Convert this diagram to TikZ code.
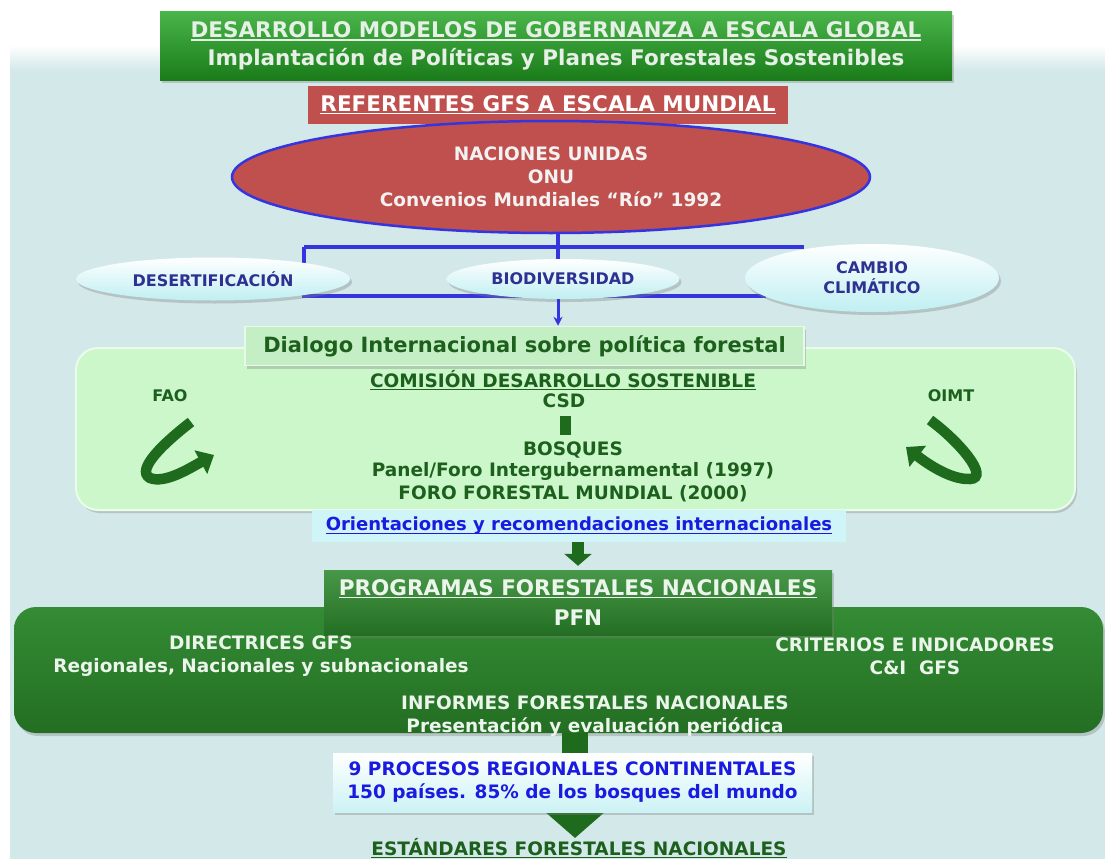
\documentclass[tikz,border=0pt]{standalone}
\usepackage{fontspec}
\setmainfont{DejaVu Sans}
\usetikzlibrary{shapes.geometric,shadows,arrows.meta}
\definecolor{bgc}{HTML}{D3E8E9}
\definecolor{tgtop}{HTML}{49B449}
\definecolor{tgmid}{HTML}{249424}
\definecolor{tgbot}{HTML}{1A7C1A}
\definecolor{ttxt}{HTML}{E6F0E6}
\definecolor{redc}{HTML}{C0504D}
\definecolor{blc}{HTML}{3535E0}
\definecolor{dblue}{HTML}{2E3192}
\definecolor{cyanl}{HTML}{BFEFF2}
\definecolor{lgfill}{HTML}{CBF7CB}
\definecolor{dialf}{HTML}{C4EFC4}
\definecolor{dgtxt}{HTML}{1D601D}
\definecolor{darkg}{HTML}{1E6B1E}
\definecolor{orfill}{HTML}{CFF5F8}
\definecolor{ortxt}{HTML}{1A1AE0}
\definecolor{dgtop}{HTML}{348C34}
\definecolor{dgmid}{HTML}{2A7D2A}
\definecolor{dgbot}{HTML}{236E23}
\definecolor{wtxt}{HTML}{ECF5EC}
\newcommand\myul[1]{\setbox0\hbox{#1}\rlap{\rule[-3pt]{\wd0}{1.3pt}}\box0}
\begin{document}
\begin{tikzpicture}[x=1pt,y=-1pt,
  hdr/.style={font=\fontsize{21.5}{28}\selectfont\bfseries},
  body/.style={font=\fontsize{18.5}{23}\selectfont\bfseries},
  small/.style={font=\fontsize{16}{20}\selectfont\bfseries},
  shad/.style={drop shadow={opacity=0.35,shadow xshift=2pt,shadow yshift=-3pt}},
  titlebox/.style={rectangle,top color=tgtop,middle color=tgmid,bottom color=tgbot,text=ttxt,align=center,hdr,shad,inner sep=0pt},
  redbox/.style={rectangle,fill=redc,text=white,hdr,inner sep=0pt},
  nuell/.style={ellipse,fill=redc,draw=blc,line width=2.5pt,text=white!95!black,align=center,body,inner sep=0pt},
  smell/.style={ellipse,top color=white,bottom color=cyanl,text=dblue,align=center,small,inner sep=0pt,shad},
  bline/.style={draw=blc,line width=3.4pt},
  lgbox/.style={rectangle,rounded corners=22pt,fill=lgfill,draw=white!60!lgfill,line width=2pt,shad},
  dialbox/.style={rectangle,fill=dialf,draw=white!60!dialf,line width=1.5pt,text=dgtxt,inner sep=0pt,shad,font=\fontsize{21}{26}\selectfont\bfseries},
  gtxt/.style={text=dgtxt,body,inner sep=0pt},
  orbox/.style={rectangle,fill=orfill,text=ortxt,inner sep=0pt,font=\fontsize{18}{22}\selectfont\bfseries},
  dgbox/.style={rectangle,rounded corners=22pt,top color=dgtop,middle color=dgmid,bottom color=dgbot,shad},
  pfnbox/.style={rectangle,top color=dgtop!90!white,bottom color=dgbot,text=wtxt,hdr,align=center,inner sep=0pt,shad},
  wt/.style={text=wtxt,body,inner sep=0pt,align=center},
  procbox/.style={rectangle,top color=white,bottom color=cyanl!80!white,text=ortxt,body,align=center,inner sep=0pt,shad},
  curv/.style={draw=darkg,line width=10.5pt,-{Triangle[width=26pt,length=15pt]}}
]
\useasboundingbox (0,0) rectangle (1105,859);
% background
\fill[white] (0,0) rectangle (1105,859);
\fill[bgc] (10,70) rectangle (1105,859);
\shade[top color=white,bottom color=bgc] (10,45) rectangle (1105,71);

% title
\node[titlebox,minimum width=792pt,minimum height=68pt] (title) at (556,46)
  {\myul{DESARROLLO MODELOS DE GOBERNANZA A ESCALA GLOBAL}\\Implantación de Políticas y Planes Forestales Sostenibles};
\node[redbox,minimum width=480pt,minimum height=38pt] (ref) at (548,105)
  {\myul{REFERENTES GFS A ESCALA MUNDIAL}};

% blue connectors
\coordinate (j0) at (558,225);
\coordinate (j1) at (558,247);
\coordinate (jl) at (304,247);
\coordinate (jr) at (804,247);
\coordinate (bl) at (304,296);
\coordinate (br) at (766,296);
\coordinate (bm) at (558,296);
\draw[bline] (j0) -- (558,262);
\draw[bline] (jl) -- (jr);
\draw[bline] (jl) -- (bl) -- (br);

% NU ellipse
\node[nuell,minimum width=638pt,minimum height=112pt] (nu) at (551,177)
  {NACIONES UNIDAS\\ONU\\Convenios Mundiales “Río” 1992};

% small ellipses
\node[smell,minimum width=274pt,minimum height=43pt] (des) at (213,279) {DESERTIFICACIÓN};
\node[smell,minimum width=233pt,minimum height=40pt] (bio) at (563,279) {BIODIVERSIDAD};
\node[smell,minimum width=254pt,minimum height=68pt] (cam) at (872,278) {CAMBIO\\CLIMÁTICO};

% light green area
\node[lgbox,minimum width=999pt,minimum height=162pt] (lg) at (575.5,429) {};
\node[dialbox,minimum width=559pt,minimum height=39pt] (dial) at (524.5,346)
  {Dialogo Internacional sobre política forestal};
\draw[draw=blc,line width=3pt,-{Stealth[length=9pt,width=9pt]}] (bio.south -| bm) -- (dial.north -| bm);

\node[gtxt] (com) at (563,380) {\myul{COMISIÓN DESARROLLO SOSTENIBLE}};
\node[gtxt] (csd) at (564,401) {CSD};
\node[rectangle,fill=darkg,minimum width=11pt,minimum height=19pt,inner sep=0pt] (bar) at (565,425) {};
\node[gtxt] (bos) at (573,450) {BOSQUES};
\node[gtxt] (pan) at (573,471) {Panel/Foro Intergubernamental (1997)};
\node[gtxt] (foro) at (573,494) {FORO FORESTAL MUNDIAL (2000)};

\node[text=dgtxt,small,inner sep=0pt] (fao) at (170,396) {FAO};
\node[text=dgtxt,small,inner sep=0pt] (oimt) at (951,396) {OIMT};
\coordinate (fa1) at (191,422);
\coordinate (fa2) at (214,455);
\coordinate (oa1) at (930,420);
\coordinate (oa2) at (906,447);
\draw[curv] (fa1) .. controls (165,442) and (135,470) .. (150,478) .. controls (165,484) and (190,468) .. (fa2);
\draw[curv] (oa1) .. controls (960,442) and (990,478) .. (970,479) .. controls (950,480) and (925,462) .. (oa2);

% orientaciones
\node[orbox,minimum width=534pt,minimum height=32pt] (ori) at (579,526)
  {\myul{Orientaciones y recomendaciones internacionales}};

% dark green area
\node[dgbox,minimum width=1089pt,minimum height=126pt] (dg) at (558.5,670) {};
\node[pfnbox,minimum width=508pt,minimum height=65pt] (pfn) at (578,602.5)
  {\myul{PROGRAMAS FORESTALES NACIONALES}\\[2pt]PFN};
\draw[draw=darkg,line width=12pt,-{Triangle[width=27pt,length=12pt]},shorten >=4pt] (ori.south -| pfn) -- (pfn.north);

\node[wt] (dir) at (261,656) {DIRECTRICES GFS\\Regionales, Nacionales y subnacionales};
\node[wt] (cri) at (915,656) {CRITERIOS E INDICADORES\\C\&I\ \ GFS};
\node[wt] (inf) at (595,716) {INFORMES FORESTALES NACIONALES\\Presentación y evaluación periódica};

% big arrow and processes box
\coordinate (tipE) at (575,838);
\draw[draw=darkg,line width=26pt,-{Triangle[width=58pt,length=26pt]}] (dg.south -| tipE) -- (tipE);
\node[procbox,minimum width=479pt,minimum height=59pt] (proc) at (572.5,782.5)
  {9 PROCESOS REGIONALES CONTINENTALES\\150 países. 85\% de los bosques del mundo};
\node[gtxt] (est) at (579,848) {\myul{ESTÁNDARES FORESTALES NACIONALES}};
\end{tikzpicture}
\end{document}
